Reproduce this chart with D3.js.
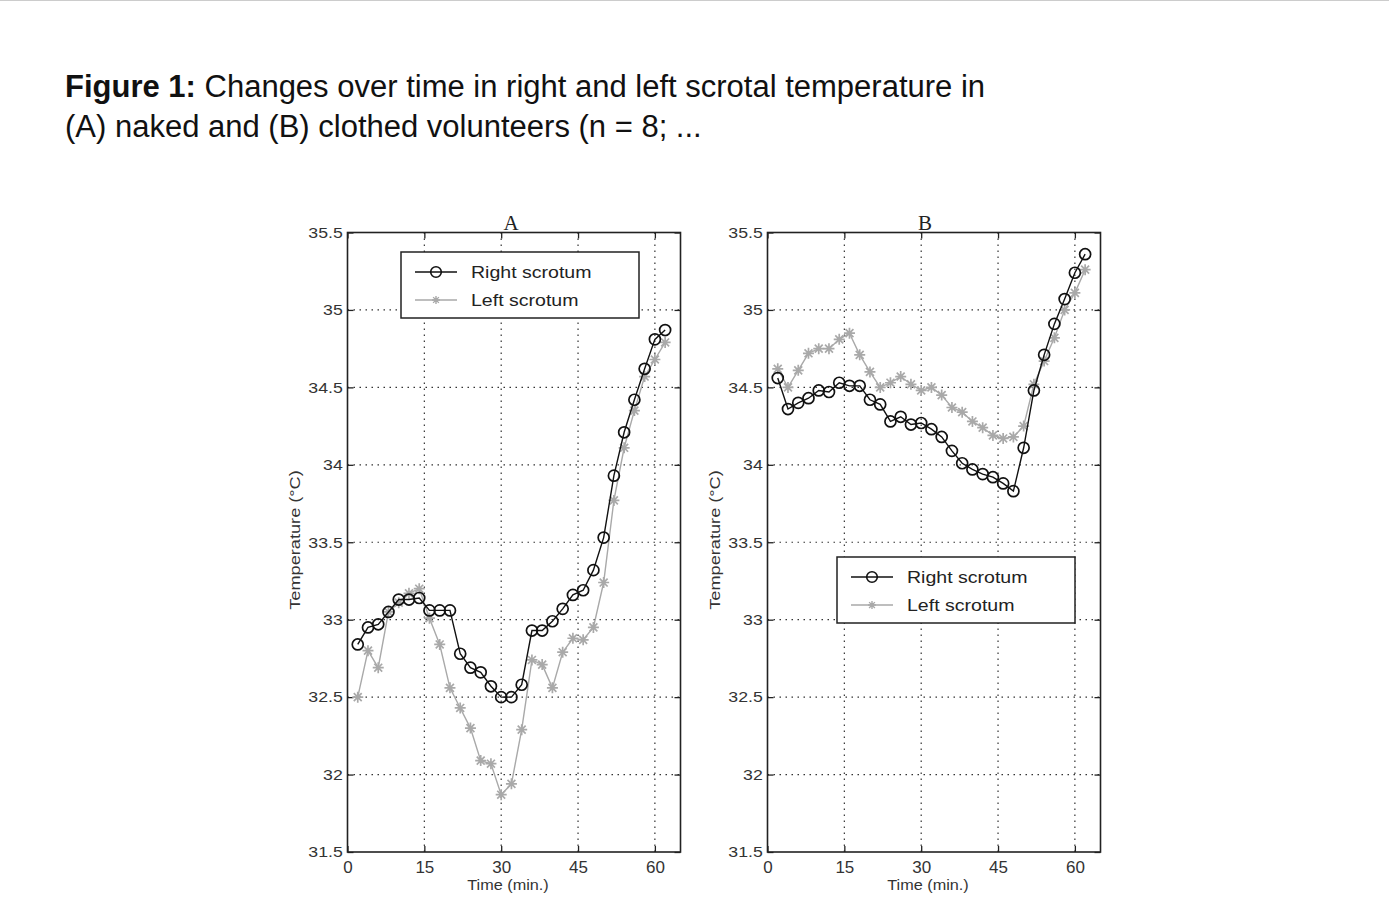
<!DOCTYPE html>
<html><head><meta charset="utf-8">
<script src="https://cdn.jsdelivr.net/npm/d3@7"></script>
<style>
body{margin:0;background:#fff;}
svg{display:block;}
</style></head>
<body>
<svg id="c" width="1389" height="914"></svg>
<script>
const times = [2,4,6,8,10,12,14,16,18,20,22,24,26,28,30,32,34,36,38,40,42,44,46,48,50,52,54,56,58,60,62];
const rightA = [32.84,32.95,32.97,33.05,33.13,33.13,33.14,33.06,33.06,33.06,32.78,32.69,32.66,32.57,32.50,32.50,32.58,32.93,32.93,32.99,33.07,33.16,33.19,33.32,33.53,33.93,34.21,34.42,34.62,34.81,34.87];
const leftA = [32.50,32.80,32.69,33.05,33.11,33.17,33.20,33.01,32.84,32.56,32.43,32.30,32.09,32.07,31.87,31.94,32.29,32.74,32.71,32.56,32.79,32.88,32.87,32.95,33.24,33.77,34.11,34.35,34.57,34.68,34.79];
const rightB = [34.56,34.36,34.40,34.43,34.48,34.47,34.53,34.51,34.51,34.42,34.39,34.28,34.31,34.26,34.27,34.23,34.18,34.09,34.01,33.97,33.94,33.92,33.88,33.83,34.11,34.48,34.71,34.91,35.07,35.24,35.36];
const leftB = [34.62,34.50,34.61,34.72,34.75,34.75,34.81,34.85,34.71,34.60,34.50,34.53,34.57,34.52,34.48,34.50,34.45,34.37,34.34,34.28,34.24,34.19,34.17,34.18,34.25,34.52,34.67,34.82,35.00,35.11,35.26];
const xTicks = [0,15,30,45,60];
const yTicks = [31.5,32,32.5,33,33.5,34,34.5,35,35.5];
const yTickLabels = ["31.5","32","32.5","33","33.5","34","34.5","35","35.5"];
const seriesNames = ["Right scrotum","Left scrotum"];
const panelTitles = ["A","B"];

const svg = d3.select("#c");
svg.append("line").attr("x1",0).attr("x2",1389).attr("y1",0.5).attr("y2",0.5).attr("stroke","#ccc").attr("stroke-width",1);

const title = svg.append("text").attr("x",65).attr("y",97)
  .attr("font-family","Liberation Sans, Arial, sans-serif").attr("font-size",31).attr("fill","#111");
title.append("tspan").attr("font-weight","bold").text("Figure 1:");
title.append("tspan").text(" Changes over time in right and left scrotal temperature in");
svg.append("text").attr("x",65).attr("y",137)
  .attr("font-family","Liberation Sans, Arial, sans-serif").attr("font-size",31).attr("fill","#111")
  .text("(A) naked and (B) clothed volunteers (n = 8; ...");

const grayC = "#a9a9a9";

function starPath(x,y,r){
  const d = r*0.72;
  return `M${x-r},${y}L${x+r},${y}M${x},${y-r}L${x},${y+r}M${x-d},${y-d}L${x+d},${y+d}M${x-d},${y+d}L${x+d},${y-d}`;
}

function panel(ox, R, L, legendPos, ptitle, titleShift){
  const left = ox, right = ox+333, top = 232.5, bottom = 852;
  const x = d3.scaleLinear().domain([0,65]).range([left,right]);
  const y = d3.scaleLinear().domain([31.5,35.5]).range([bottom,top]);
  const g = svg.append("g");
  // grid
  g.selectAll(".gx").data(xTicks.filter(t=>t>0)).join("line")
    .attr("x1",d=>x(d)).attr("x2",d=>x(d)).attr("y1",top).attr("y2",bottom)
    .attr("stroke","#333").attr("stroke-width",1.2).attr("stroke-dasharray","1.5,4.5");
  g.selectAll(".gy").data(yTicks.filter(t=>t>31.5 && t<35.5)).join("line")
    .attr("x1",left).attr("x2",right).attr("y1",d=>y(d)).attr("y2",d=>y(d))
    .attr("stroke","#333").attr("stroke-width",1.2).attr("stroke-dasharray","1.5,4.5");
  // axes
  const fontF = "Liberation Sans, Arial, sans-serif";
  const axB = d3.axisBottom(x).tickValues(xTicks).tickSize(-6).tickPadding(9).tickFormat(d3.format("d"));
  const axL = d3.axisLeft(y).tickValues(yTicks).tickSize(-6).tickPadding(4).tickFormat((d,i)=>yTickLabels[i]);
  const axT = d3.axisTop(x).tickValues(xTicks).tickSize(-6).tickFormat("");
  const axR = d3.axisRight(y).tickValues(yTicks).tickSize(-6).tickFormat("");
  [[axB,`translate(0,${bottom})`,"b"],[axL,`translate(${left},0)`,"l"],[axT,`translate(0,${top})`,"t"],[axR,`translate(${right},0)`,"r"]].forEach(([a,t,k])=>{
    const ga = g.append("g").attr("transform",t).call(a);
    ga.select(".domain").remove();
    ga.selectAll("line").attr("stroke","#222").attr("stroke-width",1.3);
    ga.selectAll("text").attr("font-family",fontF).attr("fill","#333");
    if(k==="b") ga.selectAll("text").attr("font-size",17);
    if(k==="l") ga.selectAll("text").attr("font-size",15).attr("transform","scale(1.18,1)");
  });
  g.append("rect").attr("x",left).attr("y",top).attr("width",right-left).attr("height",bottom-top)
    .attr("fill","none").attr("stroke","#222").attr("stroke-width",1.6);
  // axis labels
  g.append("text").attr("transform",`translate(${(left+right)/2-6},890) scale(1.16,1)`).attr("text-anchor","middle")
    .attr("font-family",fontF).attr("font-size",14).attr("fill","#333").text("Time (min.)");
  g.append("text").attr("transform",`translate(${left-48},540) rotate(-90) scale(1.3,1)`).attr("text-anchor","middle")
    .attr("font-family",fontF).attr("font-size",14).attr("fill","#333").text("Temperature (°C)");
  g.append("text").attr("x",(left+right)/2+titleShift).attr("y",230).attr("text-anchor","middle")
    .attr("font-family","Liberation Serif, Times New Roman, serif").attr("font-size",21).attr("fill","#222").text(ptitle);
  // series
  const line = d3.line().x((d,i)=>x(times[i])).y(d=>y(d));
  g.append("path").datum(L).attr("d",line).attr("fill","none").attr("stroke",grayC).attr("stroke-width",1.4);
  g.selectAll(".st").data(L).join("path").attr("d",(d,i)=>starPath(x(times[i]),y(d),5.5))
    .attr("stroke",grayC).attr("stroke-width",1.7).attr("fill","none");
  g.append("path").datum(R).attr("d",line).attr("fill","none").attr("stroke","#111").attr("stroke-width",1.4);
  g.selectAll(".ci").data(R).join("circle").attr("cx",(d,i)=>x(times[i])).attr("cy",d=>y(d)).attr("r",5.5)
    .attr("fill","none").attr("stroke","#111").attr("stroke-width",1.7);
  // legend
  const [lx,ly] = legendPos;
  const lg = g.append("g");
  lg.append("rect").attr("x",lx).attr("y",ly).attr("width",238).attr("height",66)
    .attr("fill","#fff").attr("stroke","#222").attr("stroke-width",1.5);
  const rows = [[seriesNames[0],"#111","c"],[seriesNames[1],grayC,"s"]];
  rows.forEach((r,i)=>{
    const yy = ly+20+i*28;
    lg.append("line").attr("x1",lx+14).attr("x2",lx+56).attr("y1",yy).attr("y2",yy).attr("stroke",r[1]).attr("stroke-width",1.4);
    if(r[2]==="c") lg.append("circle").attr("cx",lx+35).attr("cy",yy).attr("r",5.3).attr("fill","none").attr("stroke",r[1]).attr("stroke-width",1.6);
    else lg.append("path").attr("d",starPath(lx+35,yy,4)).attr("stroke",r[1]).attr("stroke-width",1.4);
    lg.append("text").attr("transform",`translate(${lx+70},${yy+6}) scale(1.15,1)`).attr("font-family",fontF).attr("font-size",17)
      .attr("fill","#222").text(r[0]);
  });
}

panel(347.5, rightA, leftA, [401,252], panelTitles[0], -3);
panel(767.5, rightB, leftB, [837,557], panelTitles[1], -9);
</script>
</body></html>
